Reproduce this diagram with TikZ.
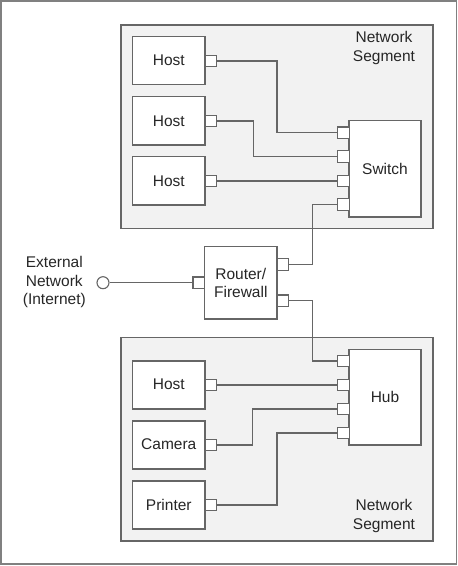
\documentclass[tikz,border=0pt]{standalone}
\usepackage{fontspec}
\setmainfont{Liberation Sans}
\begin{document}
\begin{tikzpicture}[x=1pt,y=-1pt,
  ln/.style={draw=black!60,line width=1.1pt},
  seg/.style={ln,fill=black!5},
  dev/.style={ln,fill=white},
  port/.style={draw=black!60,line width=1.1pt,fill=white,minimum size=11.5pt,inner sep=0pt,outer sep=0pt},
  lbl/.style={font=\fontsize{15.5}{18.5}\selectfont,align=center,text=black!85},
  wire/.style={draw=black!60,line width=1.1pt}]
\useasboundingbox (0,0) rectangle (458,566);
\draw[draw=black!50,line width=1.6pt] (1,1) rectangle (456.5,564);
% segments
\draw[seg] (121,25) rectangle (433,228.7);
\draw[seg] (121,337.3) rectangle (433,541);
\node[lbl] (segA) at (384,48) {Network\\Segment};
\node[lbl] (segB) at (384,516) {Network\\Segment};
% top hosts
\draw[dev] (132.7,36.7) rectangle (205,84.7);
\node[lbl] (h1) at (168.8,60.7) {Host};
\draw[dev] (132.7,96.7) rectangle (205,145);
\node[lbl] (h2) at (168.8,120.8) {Host};
\draw[dev] (132.7,156.7) rectangle (205,205);
\node[lbl] (h3) at (168.8,180.8) {Host};
\node[port] (h1p) at (211,61) {};
\node[port] (h2p) at (211,121) {};
\node[port] (h3p) at (211,181) {};
% switch
\draw[dev] (349,120.7) rectangle (421,217);
\node[lbl] (sw) at (385,168.5) {Switch};
\node[port] (s1) at (343.3,132.7) {};
\node[port] (s2) at (343.3,156.3) {};
\node[port] (s3) at (343.3,181) {};
\node[port] (s4) at (343.3,204.5) {};
% router
\draw[dev] (204.7,246.7) rectangle (277,319);
\node[lbl] (rt) at (240.8,282.8) {Router/\\Firewall};
\node[port] (rl) at (198.7,282.7) {};
\node[port] (r1) at (283,264.3) {};
\node[port] (r2) at (283,300.7) {};
% external
\node[lbl] (ext) at (54.3,282.3) {External\\Network\\(Internet)};
\node[circle,draw=black!60,line width=1.1pt,fill=white,minimum size=12pt,inner sep=0pt] (ec) at (103,282.7) {};
% hub
\draw[dev] (349,349.3) rectangle (421,445);
\node[lbl] (hub) at (385,396.5) {Hub};
\node[port] (u1) at (343.3,361) {};
\node[port] (u2) at (343.3,385) {};
\node[port] (u3) at (343.3,409) {};
\node[port] (u4) at (343.3,433) {};
% bottom devices
\draw[dev] (132.7,361) rectangle (205,409);
\node[lbl] (bh) at (168.8,384.5) {Host};
\draw[dev] (132.7,421) rectangle (205,469);
\node[lbl] (cam) at (168.8,444.5) {Camera};
\draw[dev] (132.7,481) rectangle (205,529);
\node[lbl] (prn) at (168.8,504.5) {Printer};
\node[port] (bhp) at (211,385) {};
\node[port] (camp) at (211,445) {};
\node[port] (prnp) at (211,505) {};
% wires
\draw[wire] (h1p.east) -- (277,61) |- (s1.west);
\draw[wire] (h2p.east) -- (253.3,121) |- (s2.west);
\draw[wire] (h3p.east) -- (s3.west);
\draw[wire] (s4.west) -- (312.7,204.5) |- (r1.east);
\draw[wire] (ec.east) -- (rl.west);
\draw[wire] (r2.east) -- (312.7,300.7) |- (u1.west);
\draw[wire] (bhp.east) -- (u2.west);
\draw[wire] (camp.east) -- (252.7,445) |- (u3.west);
\draw[wire] (prnp.east) -- (277,505) |- (u4.west);
\end{tikzpicture}
\end{document}
